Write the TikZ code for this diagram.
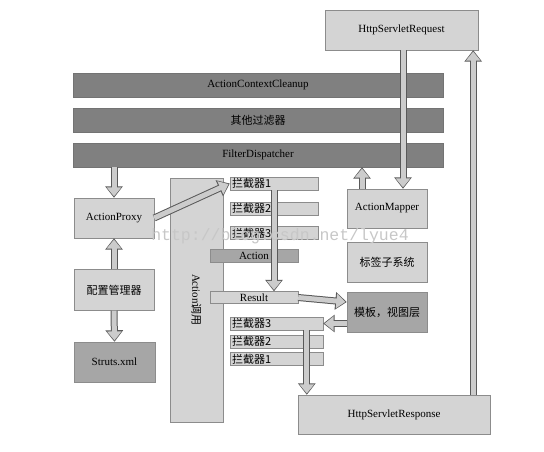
\documentclass[tikz,border=0pt]{standalone}
\usepackage{fontspec}
\setmainfont{Liberation Serif}
\newfontfamily\cjk{Noto Sans CJK SC}
\newfontfamily\wmfont{Liberation Mono}
\usetikzlibrary{arrows.meta}
\begin{document}
\begin{tikzpicture}[x=1pt,y=-1pt,
  font=\fontsize{11}{13}\selectfont,
  bar/.style={fill=black!50, draw=black!55, minimum width=370pt, minimum height=24pt, inner sep=0pt},
  box/.style={fill=black!17, draw=black!45, inner sep=0pt},
  darkbox/.style={box, fill=black!35},
  ibox/.style={box, minimum height=13pt, inner xsep=2pt, inner ysep=0pt, align=left, font=\cjk\fontsize{11}{12}\selectfont},
  flow/.style={line width=5pt, draw=black!20, shorten >=1.4pt,
    -{Triangle[width=14pt,length=9pt]},
    preaction={draw=black!65, line width=7pt, shorten >=0pt,
      -{Triangle[width=17pt,length=11.5pt]}}}]
  \useasboundingbox (0,0) rectangle (544,451);
  \node[box, minimum width=153pt, minimum height=40pt] (req) at (401.5,30) {HttpServletRequest};
  \node[bar] (cleanup) at (258,85) {ActionContextCleanup};
  \node[bar] (other) at (258,120) {\cjk 其他过滤器};
  \node[bar] (fd) at (258,155) {FilterDispatcher};
  \node[box, minimum width=80pt, minimum height=40pt] (proxy) at (114,218) {ActionProxy};
  \node[box, minimum width=80pt, minimum height=41pt] (config) at (114,290) {\cjk 配置管理器};
  \node[darkbox, minimum width=81pt, minimum height=40pt] (struts) at (114.5,362) {Struts.xml};
  \node[box, rotate=-90, minimum width=244pt, minimum height=53pt] (call) at (196.5,300) {Action{\cjk 调用}};
  \node[ibox, text width=84pt] (ic1) at (274,183.5) {拦截器1};
  \node[ibox, text width=84pt] (ic2) at (274,208.5) {拦截器2};
  \node[ibox, text width=84pt] (ic3) at (274,233) {拦截器3};
  \node[darkbox, minimum width=88pt, minimum height=13pt] (action) at (254,255.5) {Action};
  \node[box, minimum width=88pt, minimum height=12pt] (result) at (254,297.5) {Result};
  \node[ibox, text width=89pt] (oc3) at (276.5,323.5) {拦截器3};
  \node[ibox, text width=89pt] (oc2) at (276.5,341.5) {拦截器2};
  \node[ibox, text width=89pt] (oc1) at (276.5,359) {拦截器1};
  \node[box, minimum width=80pt, minimum height=39pt] (mapper) at (387,208.5) {ActionMapper};
  \node[box, minimum width=80pt, minimum height=40pt] (tags) at (387,262) {\cjk 标签子系统};
  \node[darkbox, minimum width=80pt, minimum height=40pt] (view) at (387,312) {\cjk 模板，视图层};
  \node[box, minimum width=192pt, minimum height=39pt] (resp) at (394,414.5) {HttpServletResponse};
  \coordinate (dropR) at ([xshift=9pt]resp.north west);
  \coordinate (upR) at ([xshift=-17pt]resp.north east);
  \coordinate (upM) at ([xshift=-25pt]mapper.north);
  \draw[flow] ([xshift=1.5pt]req.south) -- ([xshift=16pt]mapper.north);
  \draw[flow] (upM) -- (upM |- fd.south);
  \draw[flow] (proxy.north |- fd.south) -- (proxy.north);
  \draw[flow] (config.north) -- (proxy.south);
  \draw[flow] (config.south) -- (struts.north);
  \draw[flow] (proxy.east) -- (ic1.west);
  \draw[flow] (ic1.south) -- (ic1.south |- result.north);
  \draw[flow] (result.east) -- ([yshift=10pt]view.west);
  \draw[flow] (view.west |- oc3.east) -- (oc3.east);
  \draw[flow] (dropR |- oc3.south) -- (dropR);
  \draw[flow] (upR) -- (upR |- req.south);
  \node[text=black!22, font=\wmfont\fontsize{16.5}{18}\selectfont] (wm) at (280,236) {http://blog.csdn.net/lyue4};
\end{tikzpicture}
\end{document}
